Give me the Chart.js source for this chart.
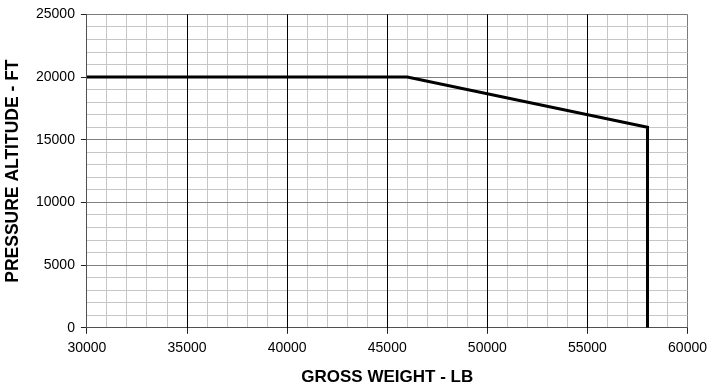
<!DOCTYPE html>
<html>
<head>
<meta charset="utf-8">
<script src="https://cdn.jsdelivr.net/npm/chart.js@4"></script>
<style>
  html, body { margin: 0; padding: 0; background: #fff; }
  #wrap { width: 713px; height: 389px; }
</style>
</head>
<body>
<div id="wrap"><canvas id="c" width="713" height="389"></canvas></div>
<script>
// Altitude limit versus gross weight
const grossWeight = [30000, 46000, 58000, 58000];
const altitude    = [20000, 20000, 16000, 0];

const xRange = [30000, 60000];
const yRange = [0, 25000];
const minorStep = 1000;
const majorStep = 5000;

const MINOR = '#c6c6c6';
const MAJOR_H = '#808080';
const FRAME = '#7a7a7a';
const AXIS = '#505050';

const isMajor = v => Math.abs(v % majorStep) < 1e-6;
const tickFont = { family: 'Liberation Sans', size: 14 };

new Chart(document.getElementById('c'), {
  type: 'line',
  data: {
    datasets: [{
      data: grossWeight.map((x, i) => ({ x, y: altitude[i] })),
      xAxisID: 'x',
      yAxisID: 'y',
      borderColor: '#000',
      borderWidth: 3,
      pointRadius: 0,
      fill: false,
      tension: 0
    }]
  },
  options: {
    responsive: false,
    animation: false,
    plugins: { legend: { display: false }, tooltip: { enabled: false } },
    layout: { padding: { top: 13, right: 20, left: 0, bottom: 1 } },
    scales: {
      // minor vertical grid, labels and title
      x: {
        type: 'linear',
        position: 'bottom',
        min: xRange[0], max: xRange[1],
        border: { color: AXIS, width: 1 },
        grid: {
          z: -2,
          color: ctx => ctx.tick.value === xRange[1] ? FRAME : MINOR,
          lineWidth: 1,
          tickLength: 6,
          tickColor: ctx => isMajor(ctx.tick.value) ? '#222' : 'rgba(0,0,0,0)'
        },
        ticks: {
          stepSize: minorStep,
          autoSkip: false,
          maxRotation: 0,
          color: '#000',
          font: tickFont,
          padding: 6,
          callback: v => isMajor(v) ? String(v) : ''
        },
        title: {
          display: true,
          text: 'GROSS WEIGHT - LB',
          color: '#000',
          font: { family: 'Liberation Sans', size: 17, weight: 'bold' },
          padding: { top: 5, bottom: 0 }
        }
      },
      // heavy vertical lines every 5000 lb, drawn over the horizontal grid
      xMajor: {
        type: 'linear',
        position: 'bottom',
        min: xRange[0], max: xRange[1],
        border: { display: false },
        grid: {
          z: 0,
          drawTicks: false,
          lineWidth: 1,
          color: ctx => (ctx.tick.value > xRange[0] && ctx.tick.value < xRange[1]) ? '#000' : 'rgba(0,0,0,0)'
        },
        ticks: { display: false, stepSize: majorStep },
        afterFit: s => { s.height = 0; }
      },
      y: {
        type: 'linear',
        min: yRange[0], max: yRange[1],
        border: { color: AXIS, width: 1 },
        grid: {
          z: -1,
          color: ctx => ctx.tick.value === yRange[1] ? FRAME : (isMajor(ctx.tick.value) ? MAJOR_H : MINOR),
          lineWidth: 1,
          tickLength: 6,
          tickColor: ctx => isMajor(ctx.tick.value) ? '#222' : 'rgba(0,0,0,0)'
        },
        ticks: {
          stepSize: minorStep,
          autoSkip: false,
          color: '#000',
          font: tickFont,
          padding: 6,
          callback: v => isMajor(v) ? String(v) : ''
        },
        title: {
          display: true,
          text: 'PRESSURE ALTITUDE - FT',
          color: '#000',
          font: { family: 'Liberation Sans', size: 17.5, weight: 'bold' },
          padding: { top: 3, bottom: 6 }
        }
      }
    }
  }
});
</script>
</body>
</html>
